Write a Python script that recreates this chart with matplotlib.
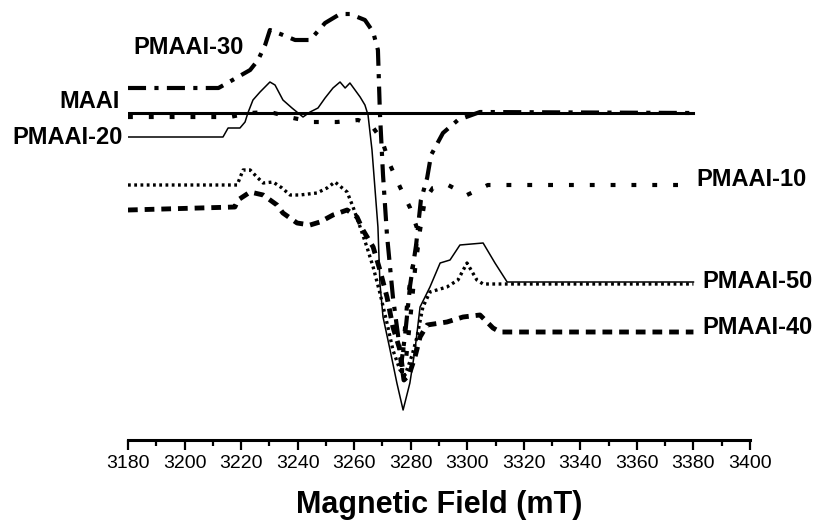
import matplotlib.pyplot as plt
from matplotlib.ticker import MultipleLocator

plt.rcParams['font.family'] = ['Liberation Sans', 'DejaVu Sans']
plt.rcParams['lines.scale_dashes'] = False

# EPR spectra: magnetic field (mT) vs. signal (a.u., each trace already offset)
maai_field = [3180, 3230, 3280, 3330, 3380]
maai_signal = [327, 327, 327, 327, 327]

pmaai10_field = [3180, 3216, 3223, 3230.2, 3238.4, 3245.4, 3253.9, 3261.4, 3266.3, 3269.8,
                 3272.7, 3276.2, 3279.8, 3282.2, 3281.9, 3280.1, 3278.7, 3277.6, 3276.9,
                 3278.3, 3279.8, 3281.5, 3283.3, 3285, 3287.8, 3293.2, 3299.9, 3307.3, 3380]
pmaai10_signal = [323, 323, 327, 328, 322, 318, 318, 320, 314, 300,
                  275, 253, 232, 212, 190, 165, 135, 100, 68,
                  80, 120, 170, 210, 240, 252, 255, 245, 255, 255]

pmaai20_field = [3180, 3213.6, 3215.4, 3219.6, 3221.4, 3222.4, 3224.2, 3226.7, 3230.2, 3232,
                 3234.8, 3238, 3241.9, 3244.4, 3247.2, 3249.7, 3252.5, 3255, 3256.8, 3258.5,
                 3260.3, 3262.1, 3263.8, 3264.9, 3266.3, 3268.4, 3269.1, 3270.2, 3272.7,
                 3275.1, 3277.3, 3279.7, 3281.5, 3283.3, 3286.8, 3290.4, 3293.9, 3297.4,
                 3305.6, 3309.8, 3314.1, 3380]
pmaai20_signal = [303, 303, 312, 312, 318, 327, 340, 348, 358, 355,
                  340, 332, 323, 328, 332, 342, 352, 358, 352, 357,
                  350, 343, 335, 325, 290, 213, 157, 123, 90,
                  57, 30, 57, 90, 133, 153, 177, 180, 195,
                  197, 177, 158, 158]

pmaai30_field = [3180, 3212, 3217, 3223.2, 3226, 3228.5, 3230.2, 3234.8, 3239.1, 3244.4,
                 3249.7, 3255, 3258.5, 3263.8, 3266.7, 3268.4, 3269.1, 3270.2, 3271.6,
                 3273.7, 3275.5, 3276.6, 3278, 3279.8, 3281.9, 3283.6, 3285.8, 3287.2,
                 3291.4, 3296.7, 3304.5, 3380]
pmaai30_signal = [352, 352, 360, 370, 380, 395, 410, 405, 400, 400,
                  417, 426, 426, 420, 408, 390, 327, 265, 205,
                  143, 105, 75, 105, 155, 195, 240, 262, 285,
                  307, 320, 328, 327]

pmaai40_field = [3180, 3217.8, 3218.9, 3223.2, 3227.8, 3232.7, 3234.8, 3239.8, 3244.4, 3247.9,
                 3252.5, 3257.5, 3261, 3263.1, 3266.7, 3269.1, 3271.6, 3273.7, 3276.2,
                 3277.6, 3279.4, 3281.5, 3283.3, 3285.8, 3292.8, 3298.5, 3304.5, 3309.1,
                 3311.6, 3380]
pmaai40_signal = [230, 233, 240, 248, 245, 235, 227, 217, 215, 218,
                  225, 230, 223, 210, 193, 170, 143, 113, 90,
                  60, 65, 83, 103, 115, 118, 123, 125, 112,
                  108, 108]

pmaai50_field = [3180, 3218.6, 3220.7, 3223.2, 3225.6, 3227.8, 3231.3, 3234.5, 3237.3, 3240.8,
                 3246.8, 3250.4, 3253.2, 3257.5, 3259.6, 3262.1, 3264.5, 3266.7, 3269.1,
                 3271.6, 3273.7, 3276.2, 3278, 3280.5, 3282.2, 3284.3, 3286.8, 3292.8,
                 3296.7, 3299.9, 3303.4, 3305.6, 3380]
pmaai50_signal = [255, 255, 270, 270, 263, 257, 258, 252, 245, 245,
                  247, 252, 258, 248, 233, 213, 193, 173, 147,
                  117, 90, 70, 65, 85, 103, 133, 148, 153,
                  160, 177, 160, 156, 156]

fig = plt.figure(figsize=(8.17, 5.25), dpi=100)
ax = fig.add_axes([128 / 817, 85 / 525, 622 / 817, 440 / 525])

# each trace with its own line style
ax.plot(maai_field, maai_signal, color='black', lw=2.2)
ax.plot(pmaai20_field, pmaai20_signal, color='black', lw=1.1)
ax.plot(pmaai30_field, pmaai30_signal, color='black', lw=3.0,
        dashes=(13, 6, 3, 6), dash_capstyle='butt')
ax.plot(pmaai10_field, pmaai10_signal, color='black', lw=3.0,
        dashes=(3.5, 11.5), dash_capstyle='butt')
ax.plot(pmaai50_field, pmaai50_signal, color='black', lw=2.4,
        dashes=(2, 2.5), dash_capstyle='butt')
ax.plot(pmaai40_field, pmaai40_signal, color='black', lw=3.5,
        dashes=(7, 5), dash_capstyle='butt')

# trace names
label_kw = dict(fontsize=17, fontweight='bold', va='center')
ax.text(3181.8, 393, 'PMAAI-30', ha='left', **label_kw)
ax.text(3177.2, 338, 'MAAI', ha='right', **label_kw)
ax.text(3178.2, 303, 'PMAAI-20', ha='right', **label_kw)
ax.text(3381.2, 261, 'PMAAI-10', ha='left', **label_kw)
ax.text(3383, 159, 'PMAAI-50', ha='left', **label_kw)
ax.text(3383, 112, 'PMAAI-40', ha='left', **label_kw)

ax.set_xlim(3180, 3400)
ax.set_ylim(0, 440)
ax.set_xticks(range(3180, 3401, 20))
ax.xaxis.set_minor_locator(MultipleLocator(10))
ax.set_yticks([])
ax.tick_params(axis='x', which='major', length=7, width=1.6, labelsize=14, pad=4)
ax.tick_params(axis='x', which='minor', length=4, width=1.6)
for side in ['left', 'top', 'right']:
    ax.spines[side].set_visible(False)
ax.spines['bottom'].set_linewidth(2.2)
ax.set_xlabel('Magnetic Field (mT)', fontsize=22, fontweight='bold', labelpad=13)
ax.patch.set_alpha(0)

fig.savefig('out.png', dpi=100)
